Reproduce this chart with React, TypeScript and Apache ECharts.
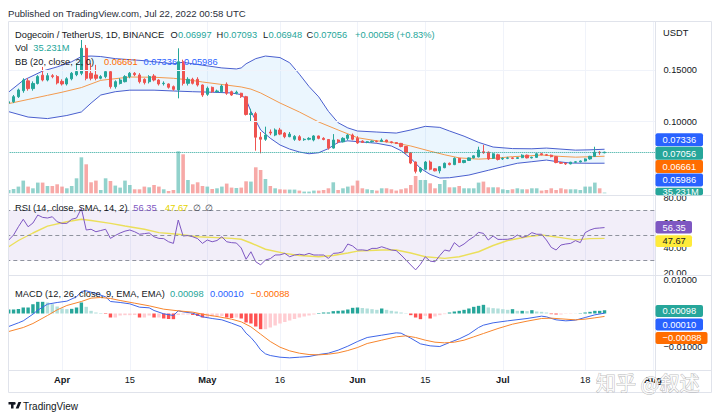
import React, { useEffect, useRef } from "react";
import * as echarts from "echarts";

const FONT = "'Liberation Sans', Arial, Helvetica, sans-serif";
const CJK_FONT = "'Noto Sans CJK SC', sans-serif";
const TEXT_COLOR = "#131722";
const UP = "#26a69a";
const DOWN = "#ef5350";

// ---------- categories: daily bars, 2022-03-21 .. 2022-08-01 ----------
const FIRST_DAY_UTC = Date.UTC(2022, 2, 21);
const DAY_COUNT = 134;
const categories: string[] = Array.from({ length: DAY_COUNT }, (_, i) =>
  new Date(FIRST_DAY_UTC + i * 86400000).toISOString().slice(0, 10)
);

// ---------- x tick labels ----------
const xTickDates = ["2022-04-01", "2022-04-15", "2022-05-01", "2022-05-16", "2022-06-01", "2022-06-15", "2022-07-01", "2022-07-18", "2022-08-01"];
const xTickLabels = ["Apr", "15", "May", "16", "Jun", "15", "Jul", "18", "Aug"];

// ---------- y tick labels ----------
const priceTicks = [0.1, 0.15];
const rsiTicks = [20, 40, 60, 80];
const macdTicks = [-0.01, 0.01];
const rsiBands = [70, 50, 30];

// ---------- DOGE/USDT daily candles [open, high, low, close], from 2022-03-21 ----------
const candles: number[][] = [
  [0.1180, 0.1210, 0.1170, 0.1193], // 0  Mar 21
  [0.1193, 0.1258, 0.1180, 0.1242],
  [0.1242, 0.1320, 0.1230, 0.1307],
  [0.1300, 0.1420, 0.1280, 0.1403],
  [0.1395, 0.1420, 0.1300, 0.1320],
  [0.1320, 0.1390, 0.1300, 0.1370],
  [0.1370, 0.1450, 0.1360, 0.1436],
  [0.1450, 0.1530, 0.1390, 0.1403],
  [0.1403, 0.1470, 0.1390, 0.1445],
  [0.1445, 0.1460, 0.1420, 0.1436],
  [0.1436, 0.1450, 0.1360, 0.1375], // 10 Mar 31
  [0.1390, 0.1410, 0.1350, 0.1365],
  [0.1365, 0.1430, 0.1350, 0.1415],
  [0.1415, 0.1480, 0.1400, 0.1468],
  [0.1455, 0.1565, 0.1440, 0.1485],
  [0.1468, 0.1790, 0.1450, 0.1710], // 15 Apr 4
  [0.1710, 0.1742, 0.1400, 0.1420],
  [0.1468, 0.1565, 0.1400, 0.1420],
  [0.1452, 0.1550, 0.1400, 0.1420],
  [0.1420, 0.1450, 0.1410, 0.1436],
  [0.1436, 0.1500, 0.1420, 0.1484], // 20
  [0.1484, 0.1490, 0.1320, 0.1339],
  [0.1339, 0.1400, 0.1320, 0.1387],
  [0.1370, 0.1420, 0.1360, 0.1403],
  [0.1387, 0.1450, 0.1380, 0.1436],
  [0.1436, 0.1480, 0.1420, 0.1468], // 25
  [0.1468, 0.1480, 0.1440, 0.1455],
  [0.1452, 0.1470, 0.1370, 0.1387],
  [0.1410, 0.1420, 0.1360, 0.1378],
  [0.1387, 0.1450, 0.1370, 0.1436],
  [0.1442, 0.1460, 0.1390, 0.1403], // 30
  [0.1403, 0.1410, 0.1350, 0.1365],
  [0.1368, 0.1390, 0.1350, 0.1372],
  [0.1365, 0.1370, 0.1320, 0.1333],
  [0.1339, 0.1350, 0.1300, 0.1313],
  [0.1307, 0.1710, 0.1226, 0.1580], // 35 Apr 25
  [0.1580, 0.1600, 0.1350, 0.1371],
  [0.1371, 0.1430, 0.1350, 0.1410],
  [0.1410, 0.1425, 0.1360, 0.1371],
  [0.1410, 0.1430, 0.1340, 0.1355],
  [0.1355, 0.1360, 0.1240, 0.1258], // 40
  [0.1265, 0.1340, 0.1250, 0.1323],
  [0.1332, 0.1340, 0.1280, 0.1290],
  [0.1290, 0.1310, 0.1280, 0.1297],
  [0.1290, 0.1360, 0.1280, 0.1345],
  [0.1362, 0.1380, 0.1260, 0.1275], // 45
  [0.1290, 0.1300, 0.1250, 0.1258],
  [0.1275, 0.1300, 0.1265, 0.1285],
  [0.1275, 0.1280, 0.1230, 0.1242],
  [0.1242, 0.1250, 0.1060, 0.1070],
  [0.1070, 0.1125, 0.1005, 0.1078], // 50
  [0.1078, 0.1095, 0.0720, 0.0850],
  [0.0850, 0.0900, 0.0694, 0.0830],
  [0.0830, 0.0952, 0.0815, 0.0871],
  [0.0900, 0.0925, 0.0870, 0.0890],
  [0.0871, 0.0935, 0.0860, 0.0920], // 55
  [0.0920, 0.0940, 0.0870, 0.0880],
  [0.0890, 0.0900, 0.0840, 0.0855],
  [0.0855, 0.0900, 0.0850, 0.0880],
  [0.0830, 0.0870, 0.0815, 0.0858],
  [0.0855, 0.0870, 0.0815, 0.0823], // 60
  [0.0826, 0.0840, 0.0815, 0.0830],
  [0.0830, 0.0850, 0.0820, 0.0839],
  [0.0823, 0.0870, 0.0810, 0.0862],
  [0.0862, 0.0865, 0.0830, 0.0839],
  [0.0839, 0.0850, 0.0820, 0.0828], // 65
  [0.0828, 0.0830, 0.0730, 0.0745],
  [0.0745, 0.0880, 0.0740, 0.0823],
  [0.0823, 0.0830, 0.0790, 0.0805],
  [0.0805, 0.0850, 0.0800, 0.0839],
  [0.0839, 0.0880, 0.0820, 0.0871], // 70
  [0.0871, 0.0885, 0.0820, 0.0830],
  [0.0840, 0.0860, 0.0785, 0.0795],
  [0.0812, 0.0820, 0.0795, 0.0800],
  [0.0800, 0.0812, 0.0792, 0.0806],
  [0.0806, 0.0818, 0.0798, 0.0812], // 75
  [0.0812, 0.0818, 0.0800, 0.0808],
  [0.0808, 0.0838, 0.0804, 0.0822],
  [0.0822, 0.0826, 0.0800, 0.0805],
  [0.0805, 0.0810, 0.0790, 0.0798],
  [0.0798, 0.0802, 0.0784, 0.0790], // 80
  [0.0790, 0.0795, 0.0752, 0.0760],
  [0.0760, 0.0765, 0.0690, 0.0700],
  [0.0700, 0.0705, 0.0590, 0.0600],
  [0.0610, 0.0615, 0.0500, 0.0520],
  [0.0520, 0.0560, 0.0505, 0.0549], // 85
  [0.0540, 0.0620, 0.0530, 0.0610],
  [0.0610, 0.0625, 0.0530, 0.0540],
  [0.0545, 0.0550, 0.0520, 0.0525],
  [0.0525, 0.0570, 0.0500, 0.0565],
  [0.0555, 0.0605, 0.0550, 0.0598], // 90
  [0.0598, 0.0605, 0.0578, 0.0585],
  [0.0585, 0.0655, 0.0580, 0.0646],
  [0.0646, 0.0650, 0.0600, 0.0605],
  [0.0605, 0.0630, 0.0598, 0.0625],
  [0.0625, 0.0655, 0.0620, 0.0650], // 95
  [0.0650, 0.0675, 0.0645, 0.0670],
  [0.0660, 0.0758, 0.0655, 0.0726],
  [0.0710, 0.0775, 0.0690, 0.0700],
  [0.0705, 0.0712, 0.0630, 0.0640],
  [0.0646, 0.0695, 0.0640, 0.0690], // 100
  [0.0680, 0.0690, 0.0625, 0.0635],
  [0.0640, 0.0655, 0.0630, 0.0646],
  [0.0646, 0.0660, 0.0638, 0.0650],
  [0.0650, 0.0656, 0.0638, 0.0645],
  [0.0645, 0.0658, 0.0640, 0.0652], // 105
  [0.0652, 0.0685, 0.0648, 0.0676],
  [0.0676, 0.0682, 0.0645, 0.0650],
  [0.0650, 0.0662, 0.0645, 0.0655],
  [0.0655, 0.0695, 0.0650, 0.0690],
  [0.0690, 0.0698, 0.0675, 0.0680], // 110
  [0.0680, 0.0688, 0.0670, 0.0676],
  [0.0676, 0.0682, 0.0655, 0.0662],
  [0.0662, 0.0668, 0.0598, 0.0605],
  [0.0605, 0.0612, 0.0592, 0.0598],
  [0.0598, 0.0604, 0.0582, 0.0592], // 115
  [0.0592, 0.0612, 0.0588, 0.0608],
  [0.0608, 0.0618, 0.0602, 0.0612],
  [0.0612, 0.0625, 0.0606, 0.0620],
  [0.0620, 0.0645, 0.0615, 0.0640],
  [0.0640, 0.0670, 0.0632, 0.0665], // 120
  [0.0665, 0.0758, 0.0660, 0.0705],
  [0.0705, 0.0715, 0.0680, 0.06997],
  [0.06997, 0.07093, 0.06948, 0.07056], // 123 Jul 22
];

// ---------- volume (millions of DOGE) ----------
const volumes = [
  165, 215, 335, 635, 335, 250, 535, 535, 365, 365,
  450, 335, 250, 365, 750, 1800, 1450, 550, 635, 165,
  750, 615, 385, 285, 635, 415, 200, 200, 335, 300,
  415, 335, 200, 115, 165, 2100, 1950, 665, 450, 550,
  365, 335, 215, 250, 335, 485, 285, 265, 285, 600,
  585, 1300, 1165, 715, 365, 250, 200, 185, 185, 185,
  135, 85, 85, 135, 135, 165, 250, 550, 165, 250,
  335, 385, 635, 250, 200, 165, 135, 250, 250, 200,
  135, 200, 250, 415, 865, 665, 665, 500, 250, 465,
  665, 300, 300, 365, 250, 250, 250, 535, 585, 300,
  300, 300, 200, 165, 200, 250, 200, 200, 250, 250,
  135, 165, 250, 165, 250, 200, 200, 200, 165, 335,
  335, 535, 250, 35.231,
];

// ---------- Bollinger Bands (20, close, 2) : [day index, value] ----------
const bbUpper = [
  [0, 0.1287], [3, 0.140], [7, 0.149], [10, 0.153], [13, 0.158], [15, 0.163], [17, 0.1635], [19, 0.163],
  [22, 0.161], [25, 0.160], [28, 0.159], [31, 0.1575], [34, 0.156], [36, 0.1575], [38, 0.156], [41, 0.154],
  [44, 0.152], [47, 0.151], [48, 0.152], [49, 0.156], [51, 0.161], [53, 0.1635], [56, 0.162], [58, 0.157],
  [60, 0.146], [62, 0.134], [64, 0.124], [66, 0.110], [68, 0.099], [70, 0.094], [72, 0.091], [76, 0.090],
  [80, 0.089], [83, 0.092], [86, 0.0955], [89, 0.0945], [91, 0.091], [94, 0.086], [97, 0.080], [100, 0.0755],
  [104, 0.074], [108, 0.0738], [111, 0.0745], [114, 0.0735], [117, 0.0725], [120, 0.0728], [123, 0.07336],
];
const bbBasis = [
  [0, 0.1175], [4, 0.1215], [8, 0.1255], [11, 0.1285], [15, 0.1330], [19, 0.1400], [25, 0.1432], [30, 0.1430],
  [34, 0.1420], [37, 0.1405], [40, 0.1384], [44, 0.1360], [48, 0.1336], [50, 0.1315], [52, 0.1278], [56, 0.1181],
  [60, 0.1094], [64, 0.0997], [68, 0.0920], [72, 0.0845], [76, 0.0815], [79, 0.0800], [83, 0.0765], [87, 0.0715],
  [90, 0.0680], [93, 0.0650], [97, 0.0638], [100, 0.0645], [104, 0.0662], [107, 0.0668], [110, 0.0678], [114, 0.0664],
  [117, 0.0657], [120, 0.0661], [123, 0.06661],
];
const bbLower = [
  [0, 0.1097], [4, 0.1045], [8, 0.1030], [12, 0.1060], [15, 0.1094], [17, 0.1180], [19, 0.1258], [22, 0.1290],
  [25, 0.1305], [30, 0.1305], [34, 0.1297], [38, 0.1290], [42, 0.1285], [46, 0.1278], [48, 0.1262], [49, 0.1215],
  [50, 0.1100], [52, 0.0920], [54, 0.0840], [56, 0.0775], [58, 0.0735], [60, 0.0707], [62, 0.0690], [64, 0.0700],
  [66, 0.0740], [68, 0.0800], [70, 0.0815], [72, 0.0807], [76, 0.0791], [79, 0.0765], [81, 0.0720], [83, 0.0646],
  [85, 0.0549], [87, 0.0490], [89, 0.0455], [91, 0.0458], [95, 0.0484], [99, 0.0530], [102, 0.0565], [105, 0.0598],
  [108, 0.0613], [111, 0.0629], [113, 0.0615], [116, 0.0600], [120, 0.0598], [123, 0.05986],
];

// ---------- RSI (14) daily ----------
const rsi = [
  46.4, 50.4, 57, 63, 57, 60, 66.4, 64.5, 64, 65,
  61, 59.7, 59.7, 63, 64, 71.7, 54.4, 55, 53, 54,
  55, 47.7, 50, 52, 53.5, 54.4, 53, 51, 51.5, 52,
  49, 47.7, 47.5, 45, 43.7, 62.4, 49.6, 50, 49, 47.5,
  43.7, 46.4, 45, 46, 49, 45, 44.3, 44, 40, 31,
  37, 29, 26.5, 30.4, 31.5, 34.4, 34.5, 35.7, 33, 34.4,
  35, 34.4, 35.7, 34.4, 34.4, 34.4, 31.7, 35.7, 36, 37,
  43.2, 41.6, 38.4, 38.5, 38, 39.7, 39.7, 41, 39.7, 38.4,
  37.9, 34.4, 30.4, 26.4, 22.5, 27, 33, 29.5, 29, 34,
  38.4, 37.5, 44.3, 41, 43.2, 46.4, 49, 52.5, 51.7, 46.4,
  49.6, 46.9, 46.9, 47, 47.7, 50.4, 48.5, 49.6, 52.3, 51,
  51, 46.4, 40.5, 38.4, 42.4, 43.2, 43.7, 45.9, 44.3, 52.3,
  54.4, 55.7, 56, 56.35,
];
// RSI-based MA (SMA 14) : [day index, value]
const rsiMa = [
  [0, 41], [2, 46], [5, 52], [8, 57.5], [12, 61], [15, 63], [17, 62], [21, 59.7], [24, 57.6], [28, 55],
  [31, 52.3], [35, 51], [39, 49], [43, 48.3], [46, 47.7], [48, 47], [50, 44], [53, 39], [57, 35.7], [60, 34],
  [64, 33], [67, 34], [70, 36], [72, 37.5], [77, 38.4], [80, 38.4], [83, 36], [86, 33], [90, 31.7], [93, 33],
  [97, 37], [100, 42], [103, 46], [107, 49], [110, 50.4], [114, 48.3], [117, 46.5], [120, 47.5], [123, 47.67],
];

// ---------- MACD (12, 26, 9) ----------
const macdLine = [
  [0, -0.0039], [2, -0.0028], [3, -0.0022], [5, -0.0002], [6, 0.0010], [8, 0.0028], [10, 0.0033], [12, 0.0037],
  [14, 0.0050], [15, 0.0066], [16, 0.0068], [18, 0.0060], [20, 0.0050], [21, 0.0036], [23, 0.0033], [25, 0.0029],
  [27, 0.0019], [29, 0.0017], [30, 0.0009], [32, -0.0001], [34, -0.0006], [35, 0.0008], [36, 0.0005], [38, 0.0001],
  [40, -0.0010], [42, -0.0015], [44, -0.0019], [46, -0.0029], [48, -0.0040], [49, -0.0059], [50, -0.0072], [51, -0.0089],
  [52, -0.0109], [53, -0.0121], [54, -0.0126], [56, -0.0131], [58, -0.0133], [60, -0.0131], [62, -0.0129], [64, -0.0123],
  [66, -0.0119], [68, -0.0110], [70, -0.0098], [72, -0.0084], [74, -0.0072], [77, -0.0065], [80, -0.0058], [81, -0.0059],
  [83, -0.0074], [85, -0.0091], [87, -0.0097], [89, -0.0099], [91, -0.0087], [93, -0.0076], [95, -0.0062], [97, -0.0042],
  [98, -0.0035], [100, -0.0028], [103, -0.0022], [107, -0.0015], [110, -0.0008], [111, -0.0010], [113, -0.0019], [115, -0.0022],
  [117, -0.0020], [119, -0.0012], [121, -0.0004], [123, 0.0001],
];
const macdSignal = [
  [0, -0.0054], [3, -0.0042], [5, -0.0030], [8, -0.0006], [10, 0.0011], [12, 0.0024], [15, 0.0036], [17, 0.0046],
  [19, 0.0048], [21, 0.0045], [23, 0.0039], [26, 0.0031], [29, 0.0023], [32, 0.0013], [35, 0.0008], [38, 0.0004],
  [40, -0.0002], [43, -0.0009], [46, -0.0017], [48, -0.0025], [50, -0.0040], [52, -0.0062], [54, -0.0084], [56, -0.0101],
  [58, -0.0112], [60, -0.0119], [62, -0.0123], [64, -0.0124], [66, -0.0122], [68, -0.0118], [70, -0.0111], [72, -0.0102],
  [74, -0.0090], [77, -0.0080], [80, -0.0070], [82, -0.0067], [84, -0.0072], [86, -0.0080], [88, -0.0086], [90, -0.0088],
  [92, -0.0086], [94, -0.0080], [96, -0.0070], [98, -0.0060], [101, -0.0045], [104, -0.0032], [107, -0.0023], [110, -0.0015],
  [112, -0.0014], [114, -0.0016], [117, -0.0019], [119, -0.0017], [121, -0.0013], [123, -0.00088],
];
const macdHist = [
  0.0012, 0.0012, 0.00135, 0.0018, 0.0018, 0.0028, 0.0035, 0.0035, 0.0033, 0.0028,
  0.0021, 0.0015, 0.0013, 0.0014, 0.0018, 0.0033, 0.0020, 0.0008, 0.0003, 0.00015,
  -0.00015, -0.0012, -0.0012, -0.0006, -0.0005, -0.0005, -0.00045, -0.0012, -0.0012, -0.0006,
  -0.0012, -0.0012, -0.0015, -0.00165, -0.0017, -0.00045, -0.0003, -0.0003, -0.00045, -0.00075,
  -0.0012, -0.0012, -0.0009, -0.0009, -0.00075, -0.0012, -0.00135, -0.0012, -0.0015, -0.0027,
  -0.0030, -0.0039, -0.0047, -0.0047, -0.0042, -0.0036, -0.0030, -0.00255, -0.0021, -0.00165,
  -0.0012, -0.0009, -0.0006, -0.0003, 0.00015, 0.0003, 0.0003, 0.0007, 0.0008, 0.0009,
  0.0012, 0.0017, 0.0018, 0.00165, 0.0015, 0.0013, 0.0011, 0.0015, 0.0011, 0.0008,
  0.0006, 0.0003, 0.0001, -0.0005, -0.0012, -0.0017, -0.0007, -0.0015, -0.0009, -0.0005,
  -0.0002, 0.0003, 0.0006, 0.0008, 0.0011, 0.0015, 0.0020, 0.0023, 0.0026, 0.0018,
  0.0016, 0.0015, 0.0013, 0.0011, 0.0013, 0.0008, 0.0008, 0.0007, 0.0010, 0.0006,
  0.0005, 0.0003, -0.0002, -0.0003, -0.0003, -0.0001, -0.0001, 0.00002, 0.0001, 0.0003,
  0.0005, 0.0008, 0.0008, 0.00098,
];

// ---------- legend / last-value texts ----------
const LAST_CLOSE = 0.07056;
const legendOHLC = [["O", "0.06997"], ["H", "0.07093"], ["L", "0.06948"], ["C", "0.07056"]];
const legendChange = "+0.00058 (+0.83%)";
const legendVol = "35.231M";
const legendBB = ["0.06661", "0.07336", "0.05986"];
const legendRSI = ["56.35", "47.67"];
const legendMACD = ["0.00098", "0.00010", "\u22120.00088"];

const TV_LOGO = "M14 22H7V11H0V4h14v18zM28 22h-8l7.5-18h8L28 22zM20 8a4 4 0 1 1-8 0 4 4 0 0 1 8 0z";
echarts.graphic.registerShape("tvlogo", echarts.graphic.extendPath(TV_LOGO, {}) as any);

// ---------- layout ----------
const BAR = 4.844;
const GL = 6.3;
const GW = DAY_COUNT * BAR;
const FS = 9.3;

const near = (arr: number[], v: number) => arr.some((t) => Math.abs(t - v) < 1e-9);

function txt(text: string, x: number, y: number, fill: string, size = FS, extra: any = {}) {
  return {
    type: "text",
    z: 40,
    x,
    y,
    silent: true,
    style: { text, fill, fontSize: size, fontFamily: FONT, verticalAlign: "middle", align: "left", ...extra },
  };
}
function box(y: number, h: number, w: number, fill: string, text: string, color = "#ffffff", ty?: number) {
  return [
    { type: "rect", z: 38, silent: true, shape: { x: 655.5, y, width: w, height: h, r: 2 }, style: { fill } },
    txt(text, 662.5, ty !== undefined ? ty : y + h / 2 + 0.3, color),
  ];
}
function hline(y: number, x1 = 8.5, x2 = 711.5) {
  return { type: "line", z: 36, silent: true, shape: { x1, y1: y, x2, y2: y }, style: { stroke: "#e0e3eb", lineWidth: 1 } };
}

function buildOption() {
  const xTickSet = new Set(xTickDates);
  const baseX = (gridIndex: number, show: boolean) => ({
    type: "category",
    gridIndex,
    data: categories,
    boundaryGap: true,
    show,
    axisLine: { show: false },
    axisTick: { show: false },
    axisLabel: { show: false },
    splitLine: { show: false },
  });

  const labelAxis: any = {
    ...baseX(4, true),
    axisLabel: {
      show: true,
      interval: (_i: number, v: string) => xTickSet.has(v),
      formatter: (v: string) => {
        const s = xTickLabels[xTickDates.indexOf(v)] || "";
        return /^\d/.test(s) ? s : `{b|${s}}`;
      },
      color: TEXT_COLOR,
      fontSize: FS,
      fontFamily: FONT,
      margin: 4,
      rich: { b: { fontWeight: "bold", fontSize: FS, fontFamily: FONT, color: TEXT_COLOR } },
    },
    splitLine: {
      show: true,
      interval: (_i: number, v: string) => xTickSet.has(v),
      alignWithLabel: true,
      lineStyle: { color: "#f0f3fa", width: 1 },
    },
  };

  const axisLabelStyle = { color: TEXT_COLOR, fontSize: FS, fontFamily: FONT, margin: 8 };

  const histData = macdHist.map((v, i) => {
    const prev = i > 0 ? macdHist[i - 1] : v;
    let color: string;
    if (v >= 0) color = v >= prev ? "#26a69a" : "#b2dfdb";
    else color = v >= prev ? "#ffcdd2" : "#ff5252";
    return { value: v, itemStyle: { color } };
  });
  const volData = volumes.map((v, i) => ({
    value: v,
    itemStyle: { color: candles[i][3] >= candles[i][0] ? "rgba(38,166,154,0.5)" : "rgba(239,83,80,0.5)" },
  }));

  const graphics: any[] = [
    { type: "rect", z: 35, silent: true, shape: { x: 0, y: 0, width: 8, height: 418 }, style: { fill: "#ffffff" } },
    txt("Published on TradingView.com, Jul 22, 2022 00:58 UTC", 8, 13.5, "#2a2e39", 9.6),
    { type: "rect", z: 36, silent: true, shape: { x: 8.5, y: 21.5, width: 703, height: 371 }, style: { fill: "none", stroke: "#e0e3eb", lineWidth: 1 } },
    hline(195.5),
    hline(275.5),
    hline(370.5),
    { type: "line", z: 36, silent: true, shape: { x1: 655.5, y1: 21.5, x2: 655.5, y2: 392.5 }, style: { stroke: "#e0e3eb", lineWidth: 1 } },
    // main legend
    txt("Dogecoin / TetherUS, 1D, BINANCE", 15, 34.5, TEXT_COLOR),
    txt(legendOHLC[0][0], 170.5, 34.5, TEXT_COLOR), txt(legendOHLC[0][1], 178, 34.5, UP),
    txt(legendOHLC[1][0], 216.5, 34.5, TEXT_COLOR), txt(legendOHLC[1][1], 223.5, 34.5, UP),
    txt(legendOHLC[2][0], 263, 34.5, TEXT_COLOR), txt(legendOHLC[2][1], 268.5, 34.5, UP),
    txt(legendOHLC[3][0], 306.5, 34.5, TEXT_COLOR), txt(legendOHLC[3][1], 313.5, 34.5, UP),
    txt(legendChange, 355, 34.5, UP),
    txt("Vol", 15, 48, TEXT_COLOR), txt(legendVol, 33.3, 48, UP),
    txt("BB (20, close, 2, 0)", 15, 61.5, TEXT_COLOR),
    txt(legendBB[0], 104, 61.5, "#ff6d00"), txt(legendBB[1], 143.5, 61.5, "#2962ff"), txt(legendBB[2], 184, 61.5, "#2962ff"),
    // RSI legend
    txt("RSI (14, close, SMA, 14, 2)", 15, 207.5, TEXT_COLOR),
    txt(legendRSI[0], 133.3, 207.5, "#7e57c2"), txt(legendRSI[1], 165, 207.5, "#e3d300"),
    txt("\u2205", 193, 207.5, "#434651"), txt("\u2205", 205, 207.5, "#434651"),
    // MACD legend
    txt("MACD (12, 26, close, 9, EMA, EMA)", 15, 293.5, TEXT_COLOR),
    txt(legendMACD[0], 170, 293.5, "#26a69a"), txt(legendMACD[1], 210, 293.5, "#2962ff"), txt(legendMACD[2], 250.5, 293.5, "#ff6d00"),
    // price scale
    txt("USDT", 663, 33, TEXT_COLOR),
    ...box(133.3, 13, 47.5, "#2962ff", legendBB[1]),
    ...box(146.7, 13, 47.5, "#26a69a", legendOHLC[3][1]),
    ...box(160, 13, 47.5, "#ff6d00", legendBB[0]),
    ...box(173.4, 13, 47.5, "#2962ff", legendBB[2]),
    ...box(187.7, 7.6, 47.5, "#26a69a", legendVol, "#ffffff", 191.6),
    ...box(221, 12.5, 36.5, "#7e57c2", legendRSI[0]),
    ...box(235.3, 11.7, 36.5, "#ffeb3b", legendRSI[1], TEXT_COLOR),
    ...box(305, 12, 47.5, "#26a69a", legendMACD[0]),
    ...box(318.5, 12, 47.5, "#2962ff", legendMACD[1]),
    ...box(332, 12, 52, "#ff6d00", legendMACD[2]),
    // watermark
    {
      type: "text", z: 45, silent: true, x: 596, y: 382,
      style: { text: "知乎 @叙述", fontSize: 20, fontFamily: CJK_FONT, fill: "rgba(255,255,255,0.9)", stroke: "rgba(130,130,130,0.55)", lineWidth: 1, verticalAlign: "middle" },
    },
    // footer
    { type: "tvlogo", z: 40, silent: true, x: 8.5, y: 400.5, scaleX: 0.36, scaleY: 0.36, style: { fill: TEXT_COLOR } },
    txt("TradingView", 23, 406.5, TEXT_COLOR, 10),
  ];

  const lineSeries = (name: string, data: any, xi: number, color: string, width = 1, z = 3) => ({
    name,
    type: "line",
    xAxisIndex: xi,
    yAxisIndex: xi,
    data,
    symbol: "none",
    showSymbol: false,
    silent: true,
    z,
    lineStyle: { color, width },
  });

  return {
    animation: false,
    backgroundColor: "#ffffff",
    textStyle: { fontFamily: FONT },
    grid: [
      { left: GL, top: 18.3, width: GW, height: 206.8 },
      { left: GL, top: 148.3, width: GW, height: 45 },
      { left: GL, top: 198, width: GW, height: 75 },
      { left: GL, top: 246.8, width: GW, height: 133.4 },
      { left: GL, top: 22, width: GW, height: 349 },
    ],
    xAxis: [baseX(0, false), baseX(1, false), baseX(2, false), baseX(3, false), labelAxis],
    yAxis: [
      {
        type: "value", gridIndex: 0, position: "right", min: 0, max: 0.2, interval: 0.05,
        axisLine: { show: false }, axisTick: { show: false }, splitLine: { show: false },
        axisLabel: { ...axisLabelStyle, formatter: (v: number) => (near(priceTicks, v) ? v.toFixed(5) : "") },
      },
      { type: "value", gridIndex: 1, min: 0, max: 2250, show: false, splitLine: { show: false } },
      {
        type: "value", gridIndex: 2, position: "right", min: 20, max: 80, interval: 20,
        axisLine: { show: false }, axisTick: { show: false }, splitLine: { show: false },
        axisLabel: { ...axisLabelStyle, formatter: (v: number) => (near(rsiTicks, v) ? v.toFixed(2) : "") },
      },
      {
        type: "value", gridIndex: 3, position: "right", min: -0.02, max: 0.02, interval: 0.01,
        axisLine: { show: false }, axisTick: { show: false }, splitLine: { show: false },
        axisLabel: {
          ...axisLabelStyle,
          formatter: (v: number) => (near(macdTicks, v) ? (v < 0 ? "\u2212" + Math.abs(v).toFixed(5) : v.toFixed(5)) : ""),
        },
      },
      { type: "value", gridIndex: 4, show: false, min: 0, max: 1, splitLine: { show: false } },
    ],
    series: [
      {
        name: "Volume",
        type: "bar",
        xAxisIndex: 1,
        yAxisIndex: 1,
        data: volData,
        barWidth: 3.6,
        silent: true,
        z: 1,
      },
      {
        name: "BB fill",
        type: "custom",
        xAxisIndex: 0,
        yAxisIndex: 0,
        silent: true,
        z: 1,
        data: [[0, 0.1]],
        encode: { x: 0, y: 1 },
        renderItem: (_p: any, api: any) => {
          const pts = bbUpper.map((p) => api.coord(p)).concat(bbLower.slice().reverse().map((p) => api.coord(p)));
          return { type: "polygon", shape: { points: pts }, style: { fill: "rgba(33,150,243,0.09)" } };
        },
      },
      lineSeries("BB upper", bbUpper, 0, "#4a5fce", 1, 2),
      lineSeries("BB lower", bbLower, 0, "#4a5fce", 1, 2),
      lineSeries("BB basis", bbBasis, 0, "#f39a4e", 1, 2),
      {
        name: "DOGEUSDT",
        type: "candlestick",
        xAxisIndex: 0,
        yAxisIndex: 0,
        silent: true,
        z: 4,
        barWidth: 2.7,
        data: candles.map(([o, h, l, c]) => [o, c, l, h]),
        itemStyle: { color: UP, color0: DOWN, borderColor: UP, borderColor0: DOWN, borderWidth: 1 },
        markLine: {
          silent: true,
          symbol: ["none", "none"],
          label: { show: false },
          animation: false,
          data: [
            ...priceTicks.map((t) => ({ yAxis: t, lineStyle: { color: "#f0f3fa", type: "solid", width: 1 } })),
            { yAxis: LAST_CLOSE, lineStyle: { color: UP, type: "dotted", width: 1 } },
          ],
        },
      },
      {
        ...lineSeries("RSI", rsi, 2, "#7e57c2", 1, 4),
        markArea: {
          silent: true,
          itemStyle: { color: "rgba(126,87,194,0.1)" },
          data: [[{ yAxis: rsiBands[2] }, { yAxis: rsiBands[0] }]],
        },
        markLine: {
          silent: true,
          symbol: ["none", "none"],
          label: { show: false },
          animation: false,
          lineStyle: { color: "#8f939e", type: [4, 3], width: 1 },
          data: rsiBands.map((b) => ({ yAxis: b })),
        },
      },
      lineSeries("RSI MA", rsiMa, 2, "#ebdf5a", 1.4, 3),
      {
        name: "Histogram",
        type: "bar",
        xAxisIndex: 3,
        yAxisIndex: 3,
        data: histData,
        barWidth: 3.4,
        silent: true,
        z: 2,
      },
      lineSeries("MACD", macdLine, 3, "#3f66e8", 1, 3),
      lineSeries("Signal", macdSignal, 3, "#f7862e", 1, 3),
    ],
    graphic: graphics,
  };
}

export default function App() {
  const ref = useRef<HTMLDivElement>(null);
  useEffect(() => {
    if (!ref.current) return;
    const chart = echarts.init(ref.current, undefined, { renderer: "svg", width: 720, height: 418 });
    chart.setOption(buildOption() as any);
    return () => chart.dispose();
  }, []);
  return (
    <div
      ref={ref}
      style={{ position: "fixed", left: 0, top: 0, width: 720, height: 418, background: "#ffffff" }}
    />
  );
}
